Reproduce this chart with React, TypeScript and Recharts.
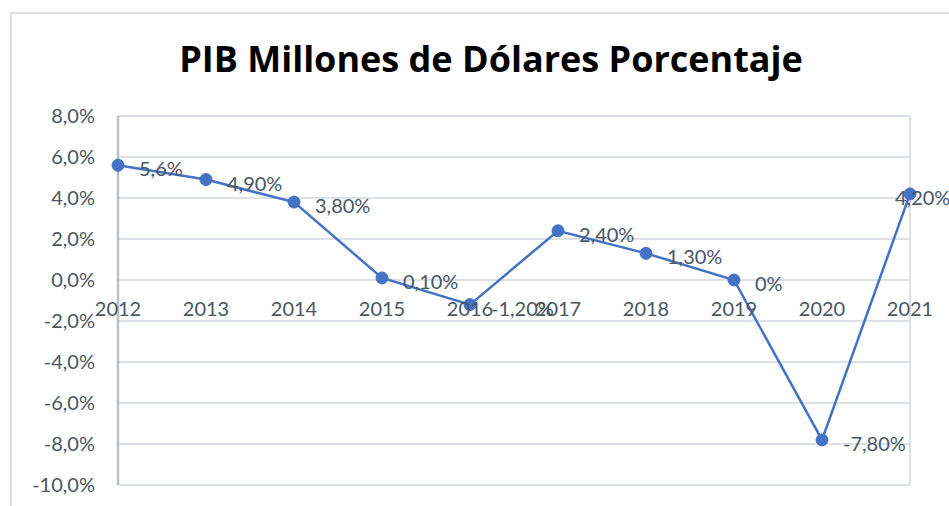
import React from 'react';
import { CartesianGrid, LabelList, Line, LineChart, ReferenceDot, XAxis, YAxis } from 'recharts';

const years = ['2012', '2013', '2014', '2015', '2016', '2017', '2018', '2019', '2020', '2021'];
const growth = [5.6, 4.9, 3.8, 0.1, -1.2, 2.4, 1.3, 0, -7.8, 4.2];
const growthLabels = ['5,6%', '4,90%', '3,80%', '0,10%', '-1,20%', '2,40%', '1,30%', '0%', '-7,80%', '4,20%'];
const yTicks = [-10, -8, -6, -4, -2, 0, 2, 4, 6, 8];

const data = years.map((year, i) => ({ year, value: growth[i], label: growthLabels[i] }));

const TEXT = '#4b5563';
const BLUE = '#4472C4';
const GRID = '#dde1e7';
const FONT = 'Lato, "Open Sans", sans-serif';
const FS = 20;

const fmtPct = (v: number) => `${v.toFixed(1).replace('.', ',')}%`;

// Excel pushes the last label back inside the chart, over its point
const PointLabel = (props: any) => {
  const { x, y, value, index } = props;
  const last = index === data.length - 1;
  return (
    <text x={x + (last ? -15 : 21)} y={y + 4} dy="0.355em" fill={TEXT} fontSize={FS} fontFamily={FONT}>
      {value}
    </text>
  );
};

export default function App() {
  return (
    <div
      style={{
        position: 'absolute',
        left: 0,
        top: 0,
        width: 949,
        height: 506,
        overflow: 'hidden',
        background: '#fff',
        fontFamily: FONT,
      }}
    >
      <div
        style={{
          position: 'absolute',
          left: 10,
          top: 12,
          width: 980,
          height: 540,
          border: '2px solid #dcdfe4',
        }}
      />
      <div
        style={{
          position: 'absolute',
          left: 0,
          top: 34,
          width: 982,
          textAlign: 'center',
          fontSize: 36,
          fontWeight: 700,
          color: '#000',
          fontFamily: '"Open Sans", Lato, sans-serif',
        }}
      >
        PIB Millones de Dólares Porcentaje
      </div>
      <div style={{ position: 'absolute', left: 0, top: 0 }}>
        <LineChart width={949} height={506} data={data} margin={{ top: 116, right: 39, bottom: 21, left: 0 }}>
          <CartesianGrid stroke={GRID} strokeWidth={2} />
          <XAxis dataKey="year" tick={false} axisLine={false} tickLine={false} height={0} />
          <YAxis
            width={118}
            domain={[-10, 8]}
            ticks={yTicks}
            tickFormatter={fmtPct}
            tickLine={false}
            tickSize={6}
            tickMargin={17}
            axisLine={{ stroke: '#b7c1cd', strokeWidth: 2.5 }}
            tick={{ fill: TEXT, fontSize: FS, fontFamily: FONT }}
          />
          {years.map((year) => (
            <ReferenceDot
              key={year}
              x={year}
              y={0}
              r={0}
              fill="none"
              stroke="none"
              label={{ value: year, position: 'bottom', offset: 22, fill: TEXT, fontSize: FS, fontFamily: FONT }}
            />
          ))}
          <Line
            type="linear"
            dataKey="value"
            stroke={BLUE}
            strokeWidth={2.5}
            dot={{ r: 6, fill: BLUE, stroke: BLUE, strokeWidth: 1 }}
            isAnimationActive={false}
          >
            <LabelList dataKey="label" content={PointLabel} />
          </Line>
        </LineChart>
      </div>
    </div>
  );
}
